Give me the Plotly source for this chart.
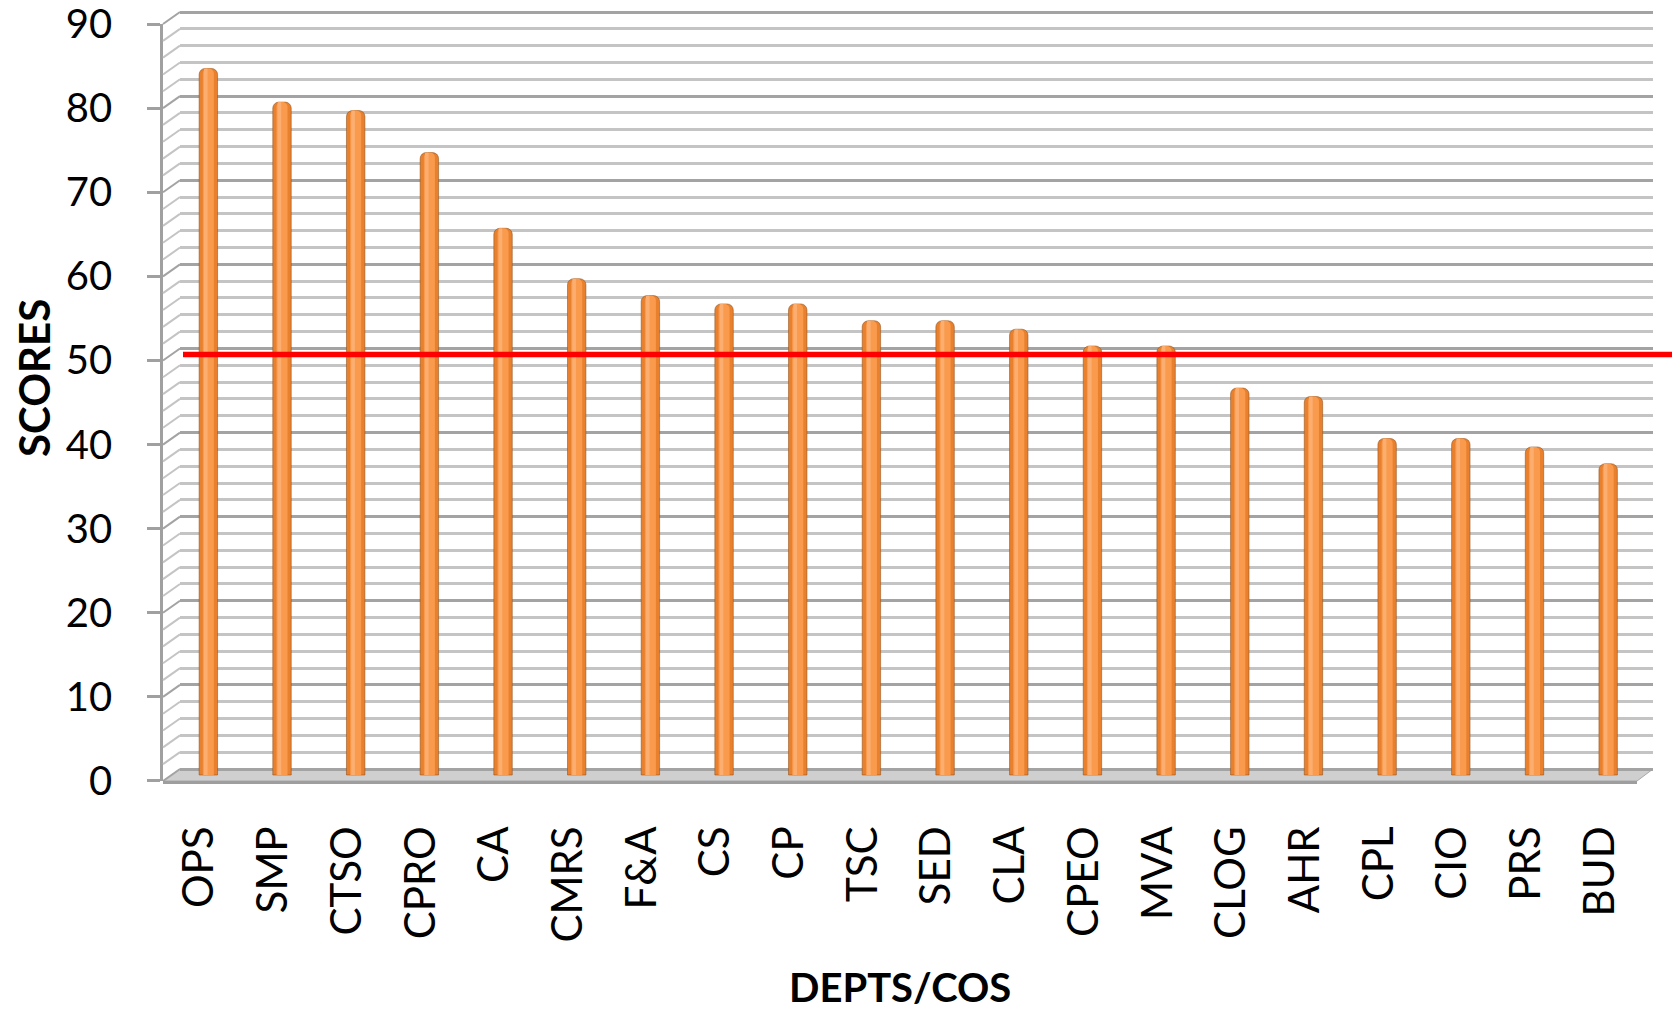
import plotly.graph_objects as go

# ---------------- data ----------------
categories = ["OPS", "SMP", "CTSO", "CPRO", "CA", "CMRS", "F&A", "CS", "CP", "TSC",
              "SED", "CLA", "CPEO", "MVA", "CLOG", "AHR", "CPL", "CIO", "PRS", "BUD"]
scores = [84, 80, 79, 74, 65, 59, 57, 56, 56, 54,
          54, 53, 51, 51, 46, 45, 40, 40, 39, 37]
benchmark = 50
y_ticks = [0, 10, 20, 30, 40, 50, 60, 70, 80, 90]

# ---------------- geometry (pixels) ----------------
W, H = 1672, 1013
ML, MR, MT, MB = 150, 0, 10, 223
PW, PH = W - ML - MR, H - MT - MB
PX_PER_UNIT = 8.411          # vertical pixels per score unit
DEPTH_DX, DEPTH_DY = 17, 12  # 3D depth offset (front -> back)

def fx(p):  # pixel x -> paper fraction
    return (p - ML) / PW

def fy(p):  # pixel y -> paper fraction
    return (H - MB - p) / PH

FRONT_L, FRONT_R, FRONT_Y0 = 163, 1637, 781
BACK_L, BACK_R = FRONT_L + DEPTH_DX, FRONT_R + 16
BACK_Y0 = FRONT_Y0 - DEPTH_DY
MID_L, MID_R, MID_Y0 = (FRONT_L + BACK_L) / 2, (FRONT_R + BACK_R) / 2, (FRONT_Y0 + BACK_Y0) / 2
TOP_PIX = MT

FONT = "Lato, 'Open Sans', sans-serif"
n = len(categories)

fig = go.Figure()

# back wall subplot (x / y): only gridlines
fig.add_trace(go.Scatter(x=[0.5], y=[0], xaxis="x", yaxis="y", mode="markers",
                         marker=dict(opacity=0), hoverinfo="skip", showlegend=False))

# bars (x2 / y2) – cylinder look via overlaid bars
idx = list(range(n))
fig.add_trace(go.Bar(x=idx, y=scores, xaxis="x2", yaxis="y2", width=0.25,
                     marker=dict(color="#E8802E", line=dict(color="rgba(140,80,30,0.55)", width=1),
                                 cornerradius=6),
                     showlegend=False, hovertext=categories, hoverinfo="text+y"))
fig.add_trace(go.Bar(x=idx, y=scores, xaxis="x2", yaxis="y2", width=0.15,
                     marker=dict(color="#F99A4C", line=dict(width=0), cornerradius=5),
                     showlegend=False, hoverinfo="skip"))
fig.add_trace(go.Bar(x=idx, y=scores, xaxis="x2", yaxis="y2", width=0.05, offset=-0.06,
                     marker=dict(color="#FBAE70", line=dict(width=0), cornerradius=2),
                     showlegend=False, hoverinfo="skip"))

# front axis subplot (x3 / y3): tick labels
fig.add_trace(go.Scatter(x=idx, y=scores, xaxis="x3", yaxis="y3", mode="markers",
                         marker=dict(opacity=0), hoverinfo="skip", showlegend=False))

back_range = [-DEPTH_DY / PX_PER_UNIT, (BACK_Y0 - TOP_PIX) / PX_PER_UNIT]
mid_range = [(MID_Y0 - (H - MB)) / PX_PER_UNIT, (MID_Y0 - TOP_PIX) / PX_PER_UNIT]
front_top = 90.05

fig.update_layout(
    width=W, height=H,
    margin=dict(l=ML, r=MR, t=MT, b=MB, autoexpand=False),
    paper_bgcolor="white", plot_bgcolor="rgba(0,0,0,0)",
    barmode="overlay",
    font=dict(family=FONT, size=42, color="black"),
    xaxis=dict(domain=[fx(BACK_L), fx(BACK_R)], range=[0, 1], visible=False, fixedrange=True,
               automargin=False),
    yaxis=dict(domain=[fy(FRONT_Y0), 1], range=back_range, anchor="x", automargin=False,
               showgrid=True, gridcolor="#A3A3A3", gridwidth=2.5, dtick=10, tick0=0,
               minor=dict(dtick=2, tick0=0, showgrid=True, gridcolor="#C4C4C4", gridwidth=2.5),
               showticklabels=False, ticks="", zeroline=False, showline=False, fixedrange=True),
    xaxis2=dict(domain=[fx(MID_L), fx(MID_R)], range=[-0.5, n - 0.5], anchor="y2",
                visible=False, fixedrange=True, automargin=False),
    yaxis2=dict(domain=[0, 1], range=mid_range, anchor="x2", visible=False, fixedrange=True,
                automargin=False),
    xaxis3=dict(domain=[fx(FRONT_L), fx(FRONT_R)], range=[-0.5, n - 0.5], anchor="y3",
                tickmode="array", tickvals=idx, ticktext=categories, tickangle=-90,
                ticks="", showline=False, showgrid=False, zeroline=False, automargin=False,
                ticklabelstandoff=36, tickfont=dict(size=42, family=FONT), fixedrange=True),
    yaxis3=dict(domain=[fy(FRONT_Y0), fy(FRONT_Y0 - front_top * PX_PER_UNIT)],
                range=[0, front_top], anchor="x3", automargin=False,
                tickmode="array", tickvals=y_ticks, ticks="outside", ticklen=13,
                tickcolor="#A0A0A0", tickwidth=2.5, showline=True, linecolor="#A0A0A0",
                linewidth=2.5, showgrid=False, zeroline=False, ticklabelstandoff=27,
                ticklabeloverflow="allow",
                tickfont=dict(size=40, family=FONT), fixedrange=True),
)

shapes = []
# side wall diagonals (front axis -> back wall) for every gridline
for v in range(0, 91, 2):
    shapes.append(dict(type="line", xref="paper", yref="y",
                       x0=fx(FRONT_L), y0=v - DEPTH_DY / PX_PER_UNIT, x1=fx(BACK_L), y1=v,
                       line=dict(color="#A3A3A3" if v % 10 == 0 else "#C4C4C4", width=2),
                       layer="above"))
# floor
floor_path = (f"M {fx(FRONT_L)} {fy(FRONT_Y0)} L {fx(FRONT_R)} {fy(FRONT_Y0)} "
              f"L {fx(BACK_R)} {fy(BACK_Y0)} L {fx(BACK_L)} {fy(BACK_Y0)} Z")
shapes.append(dict(type="path", xref="paper", yref="paper", path=floor_path,
                   fillcolor="#CFCFCF", line=dict(color="#A8A8A8", width=1), layer="below"))
shapes.append(dict(type="rect", xref="paper", yref="paper",
                   x0=fx(FRONT_L), x1=fx(FRONT_R), y0=fy(FRONT_Y0 + 3), y1=fy(FRONT_Y0),
                   fillcolor="#9E9E9E", line=dict(width=0), layer="below"))
# benchmark line
shapes.append(dict(type="line", xref="paper", yref="y2",
                   x0=fx(BACK_L + 3), x1=1.0, y0=benchmark, y1=benchmark,
                   line=dict(color="#FF0000", width=5.5), layer="above"))
fig.update_layout(shapes=shapes)

fig.add_annotation(text="<b>SCORES</b>", xref="paper", yref="paper",
                   x=fx(34), y=fy(378), textangle=-90, showarrow=False,
                   font=dict(size=42, family=FONT, color="black"),
                   xanchor="center", yanchor="middle")
fig.add_annotation(text="<b>DEPTS/COS</b>", xref="paper", yref="paper",
                   x=fx(900), y=fy(987), showarrow=False,
                   font=dict(size=40, family=FONT, color="black"),
                   xanchor="center", yanchor="middle")

fig.write_html("out.html", config={"displayModeBar": False},
               post_script="document.body.style.margin='0';document.body.style.overflow='hidden';")
